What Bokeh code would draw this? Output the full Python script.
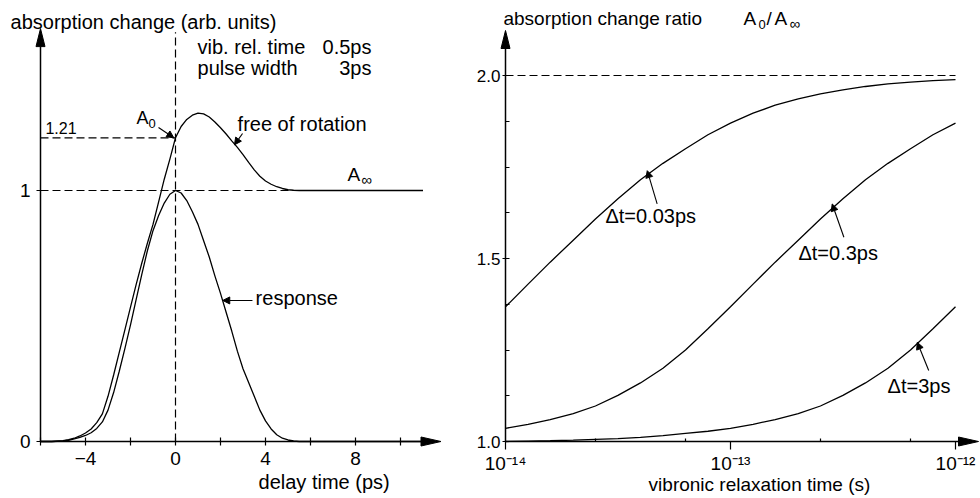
from bokeh.plotting import figure
from bokeh.models import (Range1d, FixedTicker, Label, Arrow, NormalHead,
                          CustomJSTickFormatter, ColumnDataSource)
from bokeh.layouts import row
from bokeh.embed import file_html
from bokeh.resources import INLINE

FONT = "Liberation Sans"

# ---------------- left panel data ----------------
delay = [-6.0, -5.5, -5.0, -4.75, -4.5, -4.25, -4.0, -3.75, -3.5, -3.25, -3.0,
         -2.75, -2.5, -2.25, -2.0, -1.75, -1.5, -1.25, -1.0, -0.75, -0.5, -0.25,
         0.0, 0.25, 0.5, 0.75, 1.0, 1.25, 1.5, 1.75, 2.0, 2.25, 2.5, 2.75, 3.0,
         3.25, 3.5, 3.75, 4.0, 4.25, 4.5, 4.75, 5.0, 5.25, 5.5, 6.0, 7.0, 8.0,
         9.0, 10.0, 11.0]
response = [0.0, 0.0, 0.002, 0.005, 0.01, 0.016, 0.024, 0.035, 0.052, 0.078,
            0.125, 0.195, 0.28, 0.37, 0.465, 0.565, 0.665, 0.76, 0.84, 0.90,
            0.95, 0.985, 1.0, 0.99, 0.96, 0.915, 0.865, 0.80, 0.735, 0.66, 0.59,
            0.515, 0.44, 0.36, 0.29, 0.235, 0.18, 0.125, 0.082, 0.05, 0.027,
            0.013, 0.006, 0.002, 0.0, 0.0, 0.0, 0.0, 0.0, 0.0, 0.0]
free_rotation = [0.0, 0.0, 0.003, 0.007, 0.013, 0.022, 0.034, 0.05, 0.075, 0.11,
                 0.18, 0.265, 0.355, 0.445, 0.535, 0.625, 0.71, 0.79, 0.865,
                 0.955, 1.045, 1.125, 1.21, 1.255, 1.283, 1.30, 1.308, 1.305,
                 1.293, 1.273, 1.25, 1.225, 1.198, 1.172, 1.143, 1.112, 1.082,
                 1.057, 1.038, 1.025, 1.015, 1.008, 1.003, 1.001, 1.0, 1.0, 1.0,
                 1.0, 1.0, 1.0, 1.0]
A0_value = 1.21
A_inf_value = 1.0
left_xticks = [-4, 0, 4, 8]
left_xminor = [-6, -2, 2, 6, 10]
left_yticks = [0, 1]

# ---------------- right panel data ----------------
relax_time = [1.00e-14, 1.26e-14, 1.58e-14, 2.00e-14, 2.51e-14, 3.16e-14,
              3.98e-14, 5.01e-14, 6.31e-14, 7.94e-14, 1.00e-13, 1.26e-13,
              1.58e-13, 2.00e-13, 2.51e-13, 3.16e-13, 3.98e-13, 5.01e-13,
              6.31e-13, 7.94e-13, 1.00e-12]
ratio_003ps = [1.368, 1.430, 1.490, 1.550, 1.608, 1.663, 1.715, 1.760, 1.800,
               1.838, 1.870, 1.897, 1.919, 1.936, 1.950, 1.961, 1.970, 1.977,
               1.982, 1.986, 1.989]
ratio_03ps = [1.036, 1.047, 1.060, 1.076, 1.097, 1.126, 1.160, 1.200, 1.250,
              1.308, 1.368, 1.430, 1.490, 1.550, 1.608, 1.663, 1.715, 1.760,
              1.800, 1.838, 1.870]
ratio_3ps = [1.000, 1.001, 1.002, 1.004, 1.006, 1.008, 1.011, 1.016, 1.022,
             1.028, 1.036, 1.047, 1.060, 1.076, 1.097, 1.126, 1.160, 1.200,
             1.250, 1.308, 1.368]
ratio_limit = 2.0
right_xticks = [1e-14, 1e-13, 1e-12]
right_xminor = [2.5e-14, 6.3e-14, 2.5e-13, 6.3e-13]
right_yticks = [1.0, 1.5, 2.0]
right_yminor = [1.125, 1.25, 1.375, 1.625, 1.75, 1.875]

LW = 1.3
DASH = "8 4"


def style_axis(ax, size="19px"):
    ax.axis_line_width = 1.5
    ax.axis_line_color = "black"
    ax.major_tick_line_color = "black"
    ax.minor_tick_line_color = "black"
    ax.major_tick_line_width = 1.2
    ax.minor_tick_line_width = 1.2
    ax.major_label_text_font = FONT
    ax.major_label_text_font_size = size
    ax.major_label_text_color = "black"


def label(p, sy, x, y, text, size=20, align="left"):
    # y is the wanted baseline; lift it a little to compensate the
    # renderer's baseline placement
    p.add_layout(Label(x=x, y=y + 0.36 * size / sy, text=text, text_font=FONT,
                       text_font_size=f"{size}px", text_color="black",
                       text_baseline="alphabetic", text_align=align))


def arrow(p, x0, y0, x1, y1, size=7, lw=1.1):
    p.add_layout(Arrow(end=NormalHead(size=size, fill_color="black",
                                      line_color="black", line_width=1),
                       x_start=x0, y_start=y0, x_end=x1, y_end=y1,
                       line_width=lw, line_color="black"))


def head(p, xs, ys):
    p.patch(x=xs, y=ys, fill_color="black", line_color="black", line_width=1)


# ======================= LEFT PANEL =======================
# pixel scale of the left panel: 22.5 px per ps, 251 px per unit
SXL, SYL = 22.5, 251.0
xl_axis0, xl_axis1 = -6.0, 11.8
yl_axis0, yl_axis1 = 0.0, 1.645
p1 = figure(width=470, height=498,
            x_range=Range1d(-175 / SXL, (470 - 175) / SXL),
            y_range=Range1d(-(498 - 441) / SYL, 441 / SYL),
            output_backend="svg", toolbar_location=None,
            min_border=0, min_border_left=0, min_border_right=0,
            min_border_top=0, min_border_bottom=0)
p1.grid.visible = False
p1.outline_line_color = None
p1.background_fill_color = "white"

hl_x = 20 / SXL   # arrowhead length along x
hl_y = 18 / SYL   # arrowhead length along y
for ax in p1.xaxis:
    style_axis(ax)
    ax.fixed_location = yl_axis0
    ax.bounds = (xl_axis0, xl_axis1 - hl_x)
    ax.ticker = FixedTicker(ticks=left_xticks, minor_ticks=left_xminor)
    ax.major_tick_in = 4
    ax.major_tick_out = 4
    ax.minor_tick_in = 4
    ax.minor_tick_out = 4
    ax.major_label_standoff = 6
for ax in p1.yaxis:
    style_axis(ax)
    ax.fixed_location = xl_axis0
    ax.bounds = (yl_axis0, yl_axis1 - hl_y)
    ax.ticker = FixedTicker(ticks=left_yticks, minor_ticks=[])
    ax.major_tick_in = 0
    ax.major_tick_out = 4
    ax.major_label_standoff = 6

src1 = ColumnDataSource(dict(x=delay, resp=response, free=free_rotation))
p1.segment(x0=[xl_axis0, xl_axis0, 0.0], y0=[A0_value, A_inf_value, 0.0],
           x1=[0.0, 11.0, 0.0], y1=[A0_value, A_inf_value, 1.63],
           line_color="black", line_width=1.2, line_dash=DASH)
p1.line("x", "resp", source=src1, line_color="black", line_width=LW)
p1.line("x", "free", source=src1, line_color="black", line_width=LW)

# axis arrowheads
head(p1, [xl_axis1, xl_axis1 - hl_x, xl_axis1 - hl_x],
     [yl_axis0, yl_axis0 + 4.5 / SYL, yl_axis0 - 4.5 / SYL])
head(p1, [xl_axis0, xl_axis0 - 4.5 / SXL, xl_axis0 + 4.5 / SXL],
     [yl_axis1, yl_axis1 - hl_y, yl_axis1 - hl_y])

label(p1, SYL, -7.33, 1.641, "absorption change (arb. units)")
label(p1, SYL, 3.69, -0.191, "delay time (ps)")
label(p1, SYL, 0.98, 1.542, "vib. rel. time")
label(p1, SYL, 8.71, 1.542, "0.5ps", align="right")
label(p1, SYL, 0.98, 1.458, "pulse width")
label(p1, SYL, 8.71, 1.458, "3ps", align="right")
label(p1, SYL, -5.78, 1.227, "1.21", 16)
label(p1, SYL, -1.73, 1.263, "A", 18)
label(p1, SYL, -1.2, 1.247, "0", 13)
arrow(p1, -0.756, 1.251, -0.076, A0_value)
label(p1, SYL, 2.76, 1.235, "free of rotation")
arrow(p1, 2.98, 1.227, 2.62, 1.182)
label(p1, SYL, 7.64, 1.036, "A", 19)
label(p1, SYL, 8.25, 1.024, "∞", 15)
label(p1, SYL, 3.56, 0.542, "response")
arrow(p1, 3.42, 0.562, 2.1, 0.562)

# ======================= RIGHT PANEL =======================
# pixel scale of the right panel: 225 px per decade, 366 px per unit;
# the panel starts at page x = 470, the axes cross at page (505, 441)
SXR, SYR = 225.0, 366.0
lr0 = -14.0
xr_axis0, lr_tip = 1e-14, -14 + 473 / SXR
yr_axis0, yr_axis1 = 1.0, 1 + 411 / SYR
p2 = figure(width=510, height=498, x_axis_type="log",
            x_range=Range1d(10 ** (lr0 - 35 / SXR), 10 ** (lr0 + 475 / SXR)),
            y_range=Range1d(1 - 57 / SYR, 1 + 441 / SYR),
            output_backend="svg", toolbar_location=None,
            min_border=0, min_border_left=0, min_border_right=0,
            min_border_top=0, min_border_bottom=0)
p2.grid.visible = False
p2.outline_line_color = None
p2.background_fill_color = "white"

hr_x = 20 / SXR
hr_y = 18 / SYR
for ax in p2.xaxis:
    style_axis(ax)
    ax.fixed_location = yr_axis0
    ax.bounds = (xr_axis0, 10 ** (lr_tip - hr_x))
    ax.ticker = FixedTicker(ticks=right_xticks, minor_ticks=right_xminor)
    ax.formatter = CustomJSTickFormatter(code="""
        const e = Math.round(Math.log10(tick));
        const sup = {'-': '\u207b', '0': '\u2070', '1': '\u00b9', '2': '\u00b2',
                     '3': '\u00b3', '4': '\u2074', '5': '\u2075'};
        return '10' + String(e).split('').map(c => sup[c]).join('');
    """)
    ax.major_tick_in = 0
    ax.major_tick_out = 8
    ax.minor_tick_in = 3
    ax.minor_tick_out = 0
    ax.major_label_standoff = 3
for ax in p2.yaxis:
    style_axis(ax, "17px")
    ax.fixed_location = xr_axis0
    ax.bounds = (yr_axis0, yr_axis1 - hr_y)
    ax.ticker = FixedTicker(ticks=right_yticks, minor_ticks=right_yminor)
    ax.formatter = CustomJSTickFormatter(code="return tick.toFixed(1);")
    ax.major_tick_in = 4
    ax.major_tick_out = 3
    ax.minor_tick_in = 4
    ax.minor_tick_out = 0
    ax.major_label_standoff = 2

src2 = ColumnDataSource(dict(t=relax_time, a=ratio_003ps, b=ratio_03ps,
                             c=ratio_3ps))
p2.segment(x0=[relax_time[0]], y0=[ratio_limit], x1=[relax_time[-1]],
           y1=[ratio_limit], line_color="black", line_width=1.2,
           line_dash=DASH)
for col in ["a", "b", "c"]:
    p2.line("t", col, source=src2, line_color="black", line_width=LW)

head(p2, [10 ** lr_tip, 10 ** (lr_tip - hr_x), 10 ** (lr_tip - hr_x)],
     [yr_axis0, yr_axis0 + 4.5 / SYR, yr_axis0 - 4.5 / SYR])
head(p2, [xr_axis0, 10 ** (lr0 - 4.5 / SXR), 10 ** (lr0 + 4.5 / SXR)],
     [yr_axis1, yr_axis1 - hr_y, yr_axis1 - hr_y])


def lx(e):
    return 10 ** e


label(p2, SYR, lx(-14.009), 2.137, "absorption change ratio", 19)
label(p2, SYR, lx(-12.942), 2.137, "A", 19)
label(p2, SYR, lx(-12.876), 2.126, "0", 13)
label(p2, SYR, lx(-12.840), 2.137, "/", 19)
label(p2, SYR, lx(-12.804), 2.137, "A", 19)
label(p2, SYR, lx(-12.738), 2.126, "∞", 15)
label(p2, SYR, lx(-13.364), 0.863, "vibronic relaxation time (s)", 19)
label(p2, SYR, lx(-13.556), 1.596, "Δt=0.03ps")
arrow(p2, lx(-13.326), 1.649, lx(-13.370), 1.740)
label(p2, SYR, lx(-12.698), 1.495, "Δt=0.3ps")
arrow(p2, lx(-12.496), 1.558, lx(-12.548), 1.649)
label(p2, SYR, lx(-12.302), 1.131, "Δt=3ps")
arrow(p2, lx(-12.119), 1.194, lx(-12.170), 1.271)

layout = row(p1, p2)
open("out.html", "w").write(file_html(layout, INLINE))
